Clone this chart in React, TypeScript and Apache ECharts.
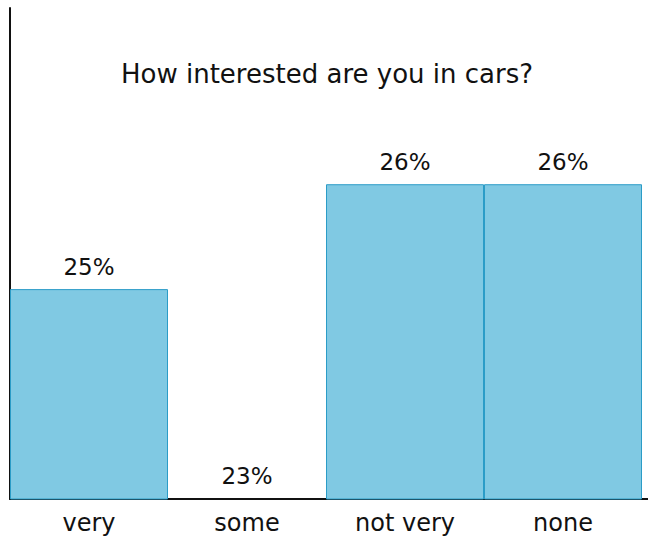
import React, { useEffect, useRef } from "react";
import * as echarts from "echarts";

const categories = ["very", "some", "not very", "none"];
const values = [25, 23, 26, 26];
const titleText = "How interested are you in cars?";
const axisBase = 23;

export default function App() {
  const ref = useRef<HTMLDivElement>(null);
  useEffect(() => {
    if (!ref.current) return;
    const chart = echarts.init(ref.current, null, { renderer: "svg" });
    const font = "DejaVu Sans";
    chart.setOption({
      animation: false,
      title: {
        text: titleText,
        left: 322,
        top: 56,
        textAlign: "center",
        textStyle: { fontFamily: font, fontSize: 26, fontWeight: "normal", color: "#111" },
      },
      grid: { left: 10, right: 6, top: 8, bottom: 38, containLabel: false },
      xAxis: {
        type: "category",
        data: categories,
        axisLine: { show: true, lineStyle: { color: "#111", width: 2 } },
        axisTick: { show: false },
        axisLabel: { fontFamily: font, fontSize: 24, color: "#111", margin: 12 },
      },
      yAxis: {
        type: "value",
        min: axisBase - 0.001,
        max: 27.68,
        axisLine: { show: true, lineStyle: { color: "#111", width: 2 } },
        axisTick: { show: false },
        axisLabel: { show: false },
        splitLine: { show: false },
      },
      graphic: [
        {
          type: "line",
          shape: { x1: 640, y1: 499, x2: 648, y2: 499 },
          style: { stroke: "#111", lineWidth: 2 },
        },
      ],
      series: [
        {
          type: "bar",
          data: values.map((v) =>
            v <= axisBase
              ? { value: v, itemStyle: { color: "transparent", borderWidth: 0 } }
              : v
          ),
          barWidth: "100%",
          barCategoryGap: 0,
          itemStyle: { color: "#80c9e3", borderColor: "#2b9cc7", borderWidth: 1 },
          label: {
            show: true,
            position: "top",
            distance: 11,
            formatter: "{c}%",
            fontFamily: font,
            fontSize: 23,
            color: "#111",
          },
        },
      ],
    });
    return () => chart.dispose();
  }, []);
  return (
    <div
      ref={ref}
      style={{ position: "absolute", left: 0, top: 0, width: 648, height: 537 }}
    />
  );
}
